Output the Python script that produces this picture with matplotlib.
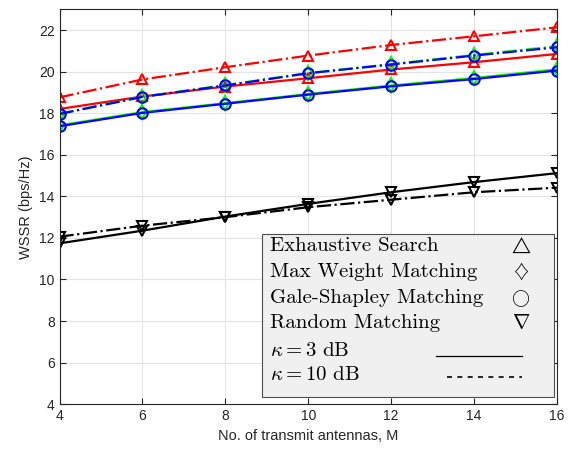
import matplotlib.pyplot as plt
from matplotlib.patches import Rectangle
from matplotlib.lines import Line2D
import numpy as np

plt.rcParams['mathtext.fontset'] = 'cm'
plt.rcParams['font.family'] = ['Liberation Sans', 'DejaVu Sans']

M = [4, 6, 8, 10, 12, 14, 16]

# kappa = 3 dB
es_3 = [18.21, 18.81, 19.29, 19.69, 20.11, 20.46, 20.86]
mw_3 = [17.42, 18.06, 18.49, 18.93, 19.34, 19.70, 20.12]
gs_3 = [17.38, 18.02, 18.46, 18.90, 19.30, 19.65, 20.06]
rm_3 = [11.74, 12.35, 13.03, 13.64, 14.20, 14.69, 15.12]

# kappa = 10 dB
es_10 = [18.77, 19.63, 20.22, 20.78, 21.29, 21.71, 22.14]
mw_10 = [17.98, 18.80, 19.36, 19.94, 20.37, 20.81, 21.23]
gs_10 = [17.97, 18.79, 19.34, 19.93, 20.35, 20.78, 21.18]
rm_10 = [12.06, 12.59, 13.00, 13.48, 13.84, 14.20, 14.42]

legend_names = ['Exhaustive Search', 'Max Weight Matching',
                'Gale-Shapley Matching', 'Random Matching']
legend_syms = [r'$\triangle$', r'$\diamondsuit$', r'$\bigcirc$', r'$\nabla$']
sym_sizes = [12, 14, 13, 15]

fig = plt.figure(figsize=(5.69, 4.51), dpi=100)
ax = fig.add_axes([0.1046, 0.104, 0.8744, 0.875])

lw = 1.6
ms = 7.5
mew = 1.5
series = [
    (es_3, es_10, '#ff0000', '^'),
    (mw_3, mw_10, '#00ff00', 'd'),
    (gs_3, gs_10, '#0000ff', 'o'),
    (rm_3, rm_10, '#000000', 'v'),
]
for y3, y10, c, mk in series:
    ax.plot(M, y3, '-', color=c, lw=lw, marker=mk, ms=ms, mew=mew, mfc='none', mec=c)
    ax.plot(M, y10, '-.', color=c, lw=lw, marker=mk, ms=ms, mew=mew, mfc='none', mec=c)

ax.set_xlim(4, 16)
ax.set_ylim(4, 23)
ax.set_xticks(np.arange(4, 17, 2))
ax.set_yticks(np.arange(4, 23, 2))
ax.grid(True, color='#e3e3e3', lw=0.8)
ax.set_axisbelow(True)
ax.tick_params(direction='in', top=True, right=True, labelsize=10,
               colors='#262626', length=4)
for s in ax.spines.values():
    s.set_color('#262626')
ax.set_xlabel('No. of transmit antennas, M', fontsize=10.5, color='#262626')
ax.set_ylabel('WSSR (bps/Hz)', fontsize=10.5, color='#262626')

# hand-made legend (axes coordinates)
ax.add_patch(Rectangle((0.407, 0.0177), 0.587, 0.413, transform=ax.transAxes,
                       facecolor='#f0f0f0', edgecolor='#4d4d4d', lw=0.8, zorder=5))
rows_y = [0.401, 0.335, 0.268, 0.205, 0.137, 0.074]
tx = 0.423
sx = 0.927
fs = 15
for i, (nm, sym) in enumerate(zip(legend_names, legend_syms)):
    ax.text(tx, rows_y[i], nm, family='cmr10', transform=ax.transAxes,
            fontsize=fs, va='center', ha='left', zorder=6)
    ax.text(sx, rows_y[i], sym, transform=ax.transAxes, fontsize=sym_sizes[i],
            va='center', ha='center', zorder=6)
ax.text(tx, rows_y[4], r'$\kappa = 3\ \mathrm{dB}$', transform=ax.transAxes,
        fontsize=fs, va='center', ha='left', zorder=6)
ax.text(tx, rows_y[5], r'$\kappa = 10\ \mathrm{dB}$', transform=ax.transAxes,
        fontsize=fs, va='center', ha='left', zorder=6)
ax.add_line(Line2D([0.757, 0.929], [0.121, 0.121], transform=ax.transAxes,
                   color='k', lw=0.9, zorder=6))
ax.add_line(Line2D([0.778, 0.929], [0.069, 0.069], transform=ax.transAxes,
                   color='k', lw=1.2, ls=(0, (3, 3.2)), zorder=6))

fig.savefig('out.png', dpi=100)
